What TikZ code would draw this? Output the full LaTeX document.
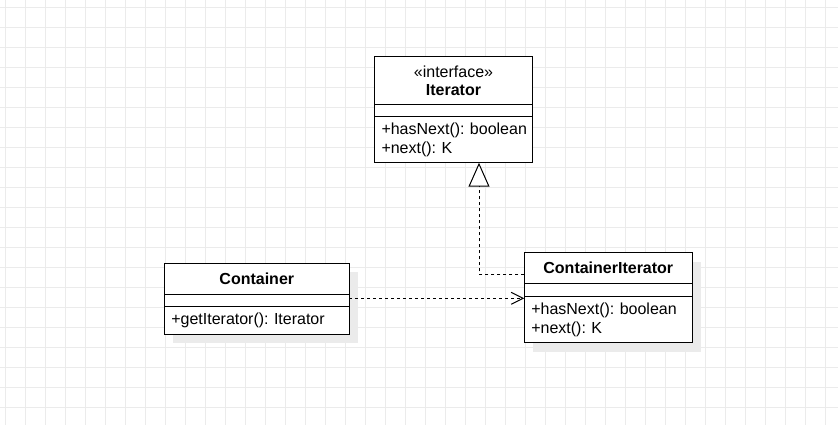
\documentclass[tikz,border=0pt]{standalone}
\usepackage{fontspec}
\setmainfont{Liberation Sans}
\usepackage{tikz}
\usetikzlibrary{positioning,arrows.meta,backgrounds}

\tikzset{
  caja/.style={draw=black, line width=1.1pt, fill=white, outer sep=0pt, inner xsep=7pt, inner ysep=0pt, font=\fontsize{16}{18.5}\selectfont\frenchspacing},
  cabecera/.style={caja, minimum width=#1, align=center},
  separador/.style={caja, minimum width=#1},
  metodos/.style={caja, text width=#1, align=left},
  rejilla/.style={draw=black!8, line width=0.8pt},
  sombra/.style={fill=black!8},
  realiza/.style={dashed, line width=1pt, -{Triangle[length=24pt,width=21pt,fill=white]}},
  usa/.style={dashed, line width=1pt, -{Straight Barb[length=12pt,width=12pt]}},
}

\begin{document}
\begin{tikzpicture}[x=1pt,y=-1pt]
            \useasboundingbox (0,0) rectangle (838,425);

            % Interfaz
            \node[cabecera=158pt, minimum height=47.8pt, anchor=north west] (ithead) at (374.5,56.7) {«interface»\\\textbf{Iterator}};
            \node[separador=158pt, minimum height=12.2pt, below=0pt of ithead] (itsep) {};
            \node[metodos=144pt, minimum height=46pt, below=0pt of itsep] (itops) {+hasNext():~boolean\\+next():~K};

            % Clases
            \node[cabecera=185pt, minimum height=31pt, anchor=north west] (conthead) at (164.3,263.3) {\textbf{Container}};
            \node[separador=185pt, minimum height=12.4pt, below=0pt of conthead] (contsep) {};
            \node[metodos=171pt, minimum height=27.6pt, below=0pt of contsep] (contops) {+getIterator():~Iterator};

            \node[cabecera=168pt, minimum height=30.6pt, anchor=north west] (cihead) at (524.3,252.7) {\textbf{ContainerIterator}};
            \node[separador=168pt, minimum height=13.4pt, below=0pt of cihead] (cisep) {};
            \node[metodos=154pt, minimum height=46pt, below=0pt of cisep] (ciops) {+hasNext():~boolean\\+next():~K};

            % Relaciones
            \draw[realiza] ([yshift=-6pt]cihead.west) -| ([xshift=25.5pt]itops.south);
            \draw[usa] ([yshift=2.2pt]contsep.east) -- ([yshift=2.2pt]contsep.east -| cisep.west);

            % Fondo y sombras
            \begin{scope}[on background layer]
                \foreach \gx in {5,25,...,825} \draw[rejilla] (\gx,0) -- (\gx,425);
                \foreach \gy in {7,27,...,407} \draw[rejilla] (0,\gy) -- (838,\gy);
                \fill[sombra] ([shift={(9pt,-9pt)}]conthead.north west) rectangle ([shift={(9pt,-9pt)}]contops.south east);
                \fill[sombra] ([shift={(9pt,-9pt)}]cihead.north west) rectangle ([shift={(9pt,-9pt)}]ciops.south east);
            \end{scope}
        \end{tikzpicture}
\end{document}
